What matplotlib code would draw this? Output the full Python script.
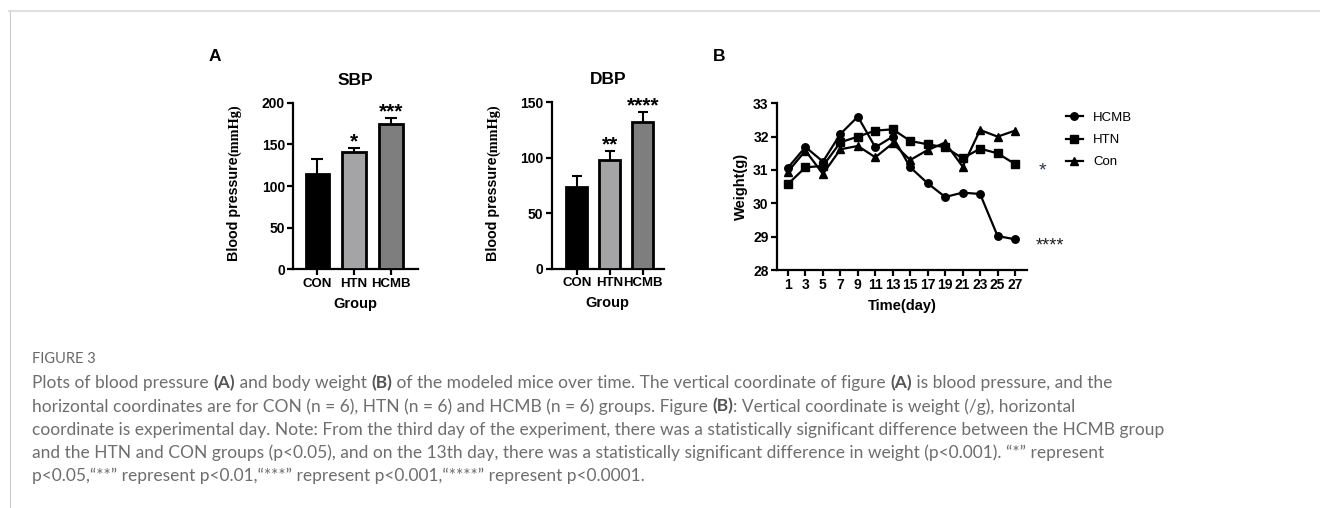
import numpy as np
import matplotlib
matplotlib.use("Agg")
import matplotlib.pyplot as plt
from matplotlib.lines import Line2D

W, H = 1320, 508

# --- data ---
groups = ["CON", "HTN", "HCMB"]
sbp_mean = [114.4, 140.8, 174.8]
sbp_err = [18.0, 4.4, 6.4]
sbp_stars = ["", "*", "***"]
dbp_mean = [73.8, 98.1, 132.3]
dbp_err = [9.6, 7.8, 8.7]
dbp_stars = ["", "**", "****"]

days = [1, 3, 5, 7, 9, 11, 13, 15, 17, 19, 21, 23, 25, 27]
w_hcmb = [31.07, 31.69, 31.25, 32.08, 32.60, 31.68, 32.00, 31.08, 30.60, 30.19, 30.32, 30.28, 29.02, 28.92]
w_htn = [30.58, 31.08, 31.12, 31.83, 32.00, 32.18, 32.22, 31.87, 31.77, 31.68, 31.35, 31.64, 31.50, 31.18]
w_con = [30.95, 31.58, 30.88, 31.62, 31.72, 31.38, 31.80, 31.30, 31.60, 31.82, 31.10, 32.20, 32.00, 32.18]

bar_colors = ["#000000", "#a4a4a7", "#7e7e7e"]
AX_FONT = "Liberation Sans"

fig = plt.figure(figsize=(W / 100, H / 100), dpi=100)


def rect(x0, y0, x1, y1):
    # pixel box -> figure fraction
    return [x0 / W, 1 - y1 / H, (x1 - x0) / W, (y1 - y0) / H]


def style_axes(ax, xsize=9.5, ysize=10):
    for s in ["top", "right"]:
        ax.spines[s].set_visible(False)
    for s in ["left", "bottom"]:
        ax.spines[s].set_linewidth(1.6)
    ax.tick_params(direction="out", length=4, width=1.6, pad=2)
    ax.tick_params(axis="x", labelsize=xsize)
    ax.tick_params(axis="y", labelsize=ysize)
    for lab in ax.get_xticklabels() + ax.get_yticklabels():
        lab.set_fontweight("bold")
        lab.set_fontfamily(AX_FONT)


def bar_panel(box, means, errs, stars, ymax, step, title, xlim):
    ax = fig.add_axes(rect(*box))
    x = np.arange(len(means))
    ax.bar(x, means, width=0.64, color=bar_colors, edgecolor="black", linewidth=2, zorder=3)
    tops = np.array(means) + np.array(errs)
    ax.vlines(x, means, tops, color="black", lw=1.5, zorder=2)
    ax.hlines(tops, x - 0.16, x + 0.16, color="black", lw=1.5, zorder=2)
    for xi, t, s in zip(x, tops, stars):
        if s:
            ax.annotate(s, (xi, t), xytext=(0, -2), textcoords="offset points",
                        ha="center", va="bottom", fontsize=15, fontweight="bold",
                        family=AX_FONT)
    ax.set_xlim(*xlim)
    ax.set_ylim(0, ymax)
    ax.set_yticks(np.arange(0, ymax + 1, step))
    ax.set_xticks(x)
    ax.set_xticklabels(groups)
    ax.spines["left"].set_bounds(0, ymax)
    ax.set_title(title, fontsize=12.5, fontweight="bold", family=AX_FONT, pad=13)
    ax.set_xlabel("Group", fontsize=10.5, fontweight="bold", family=AX_FONT, labelpad=5)
    style_axes(ax)
    return ax


ax1 = bar_panel((293.3, 102.7, 418.3, 269.3), sbp_mean, sbp_err, sbp_stars, 200, 50, "SBP", (-0.654, 2.75))
ax2 = bar_panel((551.7, 102.3, 664, 269), dbp_mean, dbp_err, dbp_stars, 150, 50, "DBP", (-0.76, 2.64))

# --- weight over time ---
ax3 = fig.add_axes(rect(777, 103.3, 1027, 270))
ax3.plot(days, w_hcmb, "-o", color="black", lw=1.6, ms=5.4, label="HCMB", clip_on=False)
ax3.plot(days, w_htn, "-s", color="black", lw=1.6, ms=5.2, label="HTN", clip_on=False)
ax3.plot(days, w_con, "-^", color="black", lw=1.6, ms=5.2, label="Con", clip_on=False)
ax3.set_xlim(-0.26, 28.37)
ax3.set_ylim(28, 33)
ax3.set_xticks(days)
ax3.set_yticks(np.arange(28, 34))
ax3.spines["left"].set_bounds(28, 33)
ax3.set_xlabel("Time(day)", fontsize=10.5, fontweight="bold", family=AX_FONT, labelpad=5)
ax3.set_ylabel("Weight(g)", fontsize=10.5, fontweight="bold", family=AX_FONT, labelpad=4)
style_axes(ax3, xsize=10, ysize=10)
ax3.annotate("*", (days[-1], w_htn[-1]), xytext=(20, -5), textcoords="offset points",
             ha="center", va="center", fontsize=14, color="#2a3550", family=AX_FONT)
ax3.annotate("****", (days[-1], w_hcmb[-1]), xytext=(25, -5), textcoords="offset points",
             ha="center", va="center", fontsize=13, color="#202020", family=AX_FONT)
leg = ax3.legend(loc="upper left", bbox_to_anchor=(1054 / W, 1 - 100 / H),
                 bbox_transform=fig.transFigure, frameon=False, handlelength=1.3,
                 handletextpad=0.75, labelspacing=0.75, prop={"family": AX_FONT, "size": 9.5})

# panel letters
fig.text(209 / W, 1 - 61 / H, "A", fontsize=12.5, fontweight="bold", family=AX_FONT)
fig.text(713 / W, 1 - 61 / H, "B", fontsize=12.5, fontweight="bold", family=AX_FONT)

fig.canvas.draw()
renderer = fig.canvas.get_renderer()


def run_text(parts, x0, y0, rotate=False, **kw):
    # draw consecutive text pieces, each one starting where the previous ended
    pos = x0 if not rotate else y0
    for txt, extra in parts:
        opts = dict(kw)
        opts.update(extra)
        if rotate:
            t = fig.text(x0 / W, 1 - pos / H, txt, rotation=90, rotation_mode="anchor",
                         ha="left", va="baseline", **opts)
            pos -= t.get_window_extent(renderer).height
        else:
            t = fig.text(pos / W, 1 - y0 / H, txt, ha="left", va="baseline", **opts)
            pos += t.get_window_extent(renderer).width


# y labels of the bar panels, unit part set in a serif face
for xb in (238, 497):
    run_text([("Blood pressure", dict(family=AX_FONT)),
              ("(mmHg)", dict(family="Liberation Serif"))],
             xb, 261, rotate=True, fontsize=10.3, fontweight="bold")

# --- caption ---
cap_kw = dict(family="Lato", fontsize=12.5, color="#6e6e6e")
B = dict(fontweight="bold", color="#555555")
N = {}
fig.text(32 / W, 1 - 363 / H, "FIGURE 3", family="Lato", fontsize=10.5, color="#686868")
lines = [
    [("Plots of blood pressure ", N), ("(A)", B), (" and body weight ", N), ("(B)", B),
     (" of the modeled mice over time. The vertical coordinate of figure ", N), ("(A)", B),
     (" is blood pressure, and the", N)],
    [("horizontal coordinates are for CON (n = 6), HTN (n = 6) and HCMB (n = 6) groups. Figure ", N),
     ("(B)", B), (": Vertical coordinate is weight (/g), horizontal", N)],
    [("coordinate is experimental day. Note: From the third day of the experiment, there was a "
      "statistically significant difference between the HCMB group", N)],
    [("and the HTN and CON groups (p<0.05), and on the 13th day, there was a statistically "
      "significant difference in weight (p<0.001). \u201c*\u201d represent", N)],
    [("p<0.05,\u201c**\u201d represent p<0.01,\u201c***\u201d represent p<0.001,"
      "\u201c****\u201d represent p<0.0001.", N)],
]
for i, parts in enumerate(lines):
    run_text(parts, 32, 388.3 + i * 23.3, **cap_kw)

# page frame
fig.add_artist(Line2D([9 / W, 1], [1 - 11 / H] * 2, transform=fig.transFigure, color="#e0e0e0", lw=1.5))
fig.add_artist(Line2D([9.5 / W] * 2, [0, 1 - 11 / H], transform=fig.transFigure, color="#cccccc", lw=0.8))

fig.savefig("out.png", dpi=100)
